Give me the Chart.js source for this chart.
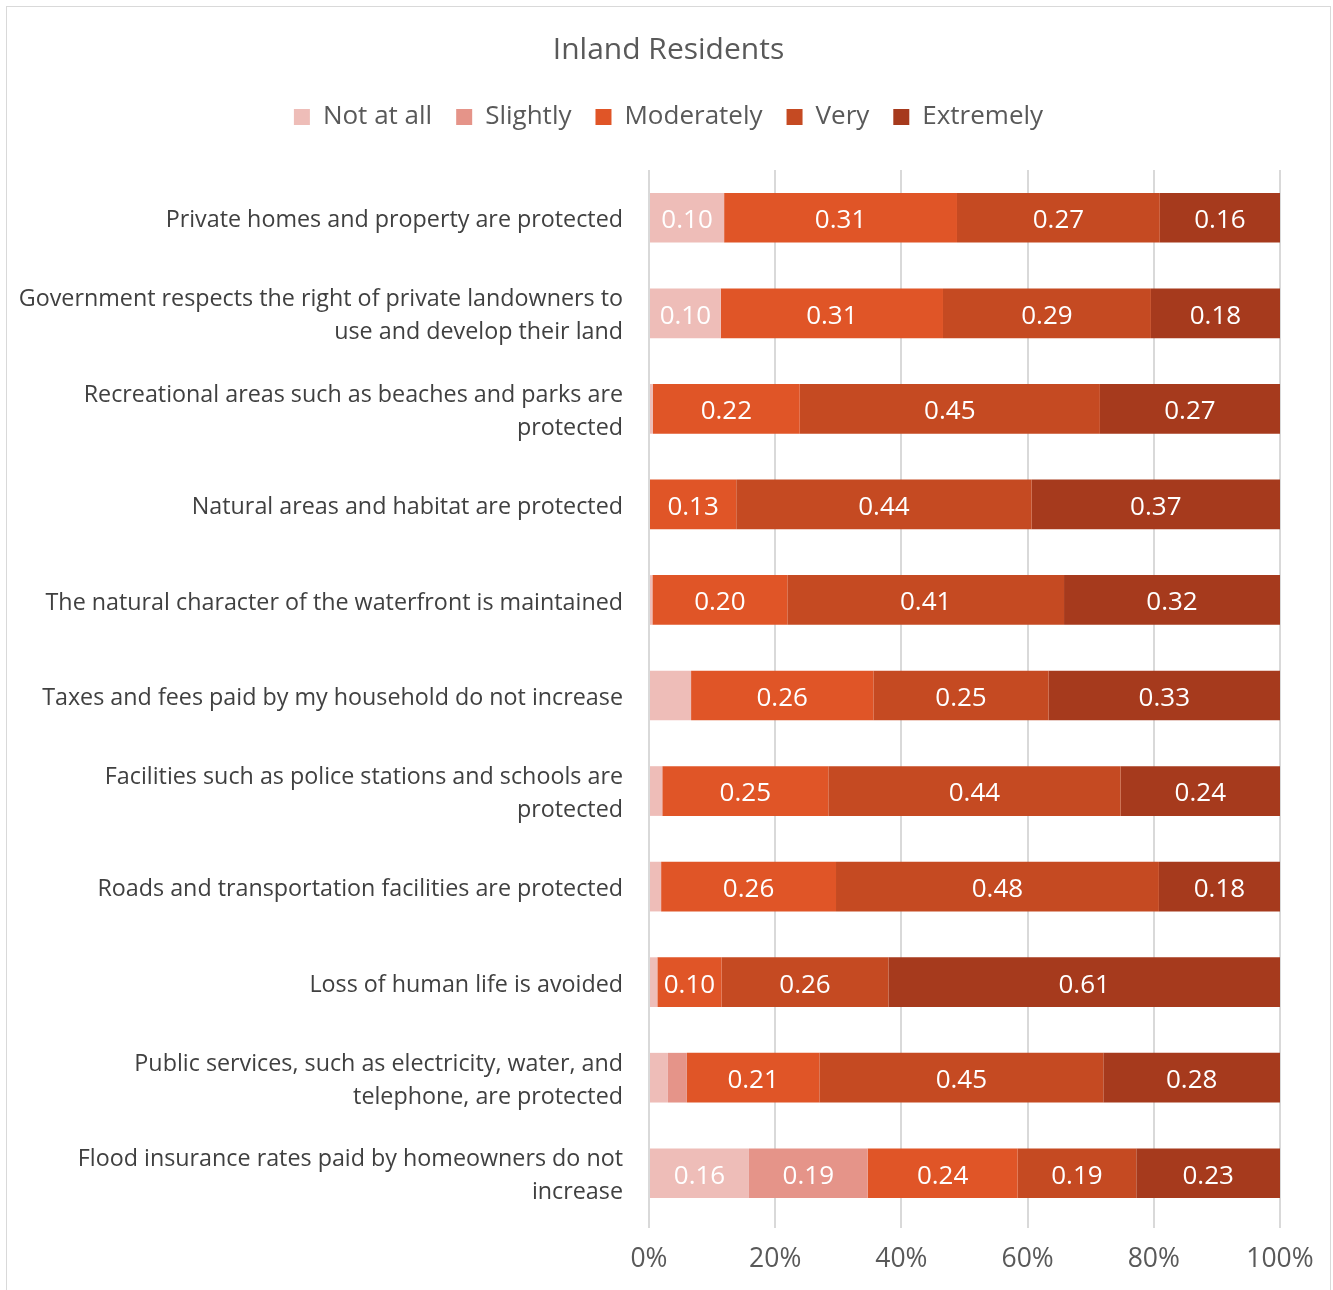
<!DOCTYPE html>
<html>
<head>
<meta charset="utf-8">
<script src="https://cdn.jsdelivr.net/npm/chart.js@4/dist/chart.umd.min.js"></script>
<style>
  html, body { margin: 0; padding: 0; background: #ffffff; }
  #frame { position: absolute; left: 6px; top: 6px; width: 1323px; height: 1290px; border: 1px solid #d9d9d9; background: #fff; }
  canvas { display: block; }
</style>
</head>
<body>
<div id="frame"><canvas id="c" width="1323" height="1283"></canvas></div>
<script>
const categories = [
  "Private homes and property are protected",
  ["Government respects the right of private landowners to", "use and develop their land"],
  ["Recreational areas such as beaches and parks are", "protected"],
  "Natural areas and habitat are protected",
  "The natural character of the waterfront is maintained",
  "Taxes and fees paid by my household do not increase",
  ["Facilities such as police stations and schools are", "protected"],
  "Roads and transportation facilities are protected",
  "Loss of human life is avoided",
  ["Public services, such as electricity, water, and", "telephone, are protected"],
  ["Flood insurance rates paid by homeowners do not", "increase"]
];
const seriesNames = ["Not at all", "Slightly", "Moderately", "Very", "Extremely"];
const notAtAll   = [0.10, 0.10, 0.006, 0.00, 0.005, 0.06, 0.02, 0.018, 0.013, 0.03, 0.16];
const slightly   = [0.00, 0.00, 0.00,  0.00, 0.00,  0.00, 0.00, 0.00,  0.00,  0.03, 0.19];
const moderately = [0.31, 0.31, 0.22,  0.13, 0.20,  0.26, 0.25, 0.26,  0.10,  0.21, 0.24];
const very       = [0.27, 0.29, 0.45,  0.44, 0.41,  0.25, 0.44, 0.48,  0.26,  0.45, 0.19];
const extremely  = [0.16, 0.18, 0.27,  0.37, 0.32,  0.33, 0.24, 0.18,  0.61,  0.28, 0.23];
const xTicks = [0, 20, 40, 60, 80, 100];
const colors = ["#EEBDB8", "#E59489", "#E05527", "#C54A22", "#A63A1D"];

const rawSeries = [notAtAll, slightly, moderately, very, extremely];
const totals = categories.map((_, i) => rawSeries.reduce((s, arr) => s + arr[i], 0));

const FONT = "'Open Sans', 'DejaVu Sans', sans-serif";

const dataLabels = {
  id: 'dataLabels',
  afterDatasetsDraw(chart) {
    const ctx = chart.ctx;
    ctx.save();
    ctx.font = "26px " + FONT;
    ctx.fillStyle = "#ffffff";
    ctx.textAlign = "center";
    ctx.textBaseline = "middle";
    chart.data.datasets.forEach((ds, di) => {
      const meta = chart.getDatasetMeta(di);
      meta.data.forEach((el, i) => {
        const v = rawSeries[di][i];
        if (v < 0.095) return;
        const cx = (el.x + el.base) / 2;
        ctx.fillText(v.toFixed(2), cx, el.y + 3);
      });
    });
    ctx.restore();
  }
};

new Chart(document.getElementById('c'), {
  type: 'bar',
  data: {
    labels: categories,
    datasets: seriesNames.map((name, di) => ({
      label: name,
      data: rawSeries[di].map((v, i) => v / totals[i] * 100),
      backgroundColor: colors[di],
      borderWidth: 0,
      barPercentage: 0.52,
      categoryPercentage: 1.0
    }))
  },
  options: {
    indexAxis: 'y',
    responsive: false,
    animation: false,
    devicePixelRatio: 1,
    layout: { padding: 0 },
    plugins: {
      tooltip: { enabled: false },
      title: {
        display: true,
        text: "Inland Residents",
        color: "#595959",
        font: { family: FONT, size: 30, weight: 'normal' },
        padding: { top: 25, bottom: 12 }
      },
      subtitle: {
        display: true,
        text: "",
        weight: 500,
        font: { size: 1, lineHeight: 1 },
        padding: { top: 29, bottom: 0 }
      },
      legend: {
        display: true,
        position: 'top',
        labels: {
          color: "#595959",
          font: { family: FONT, size: 26 },
          boxWidth: 16,
          boxHeight: 16,
          padding: 24
        }
      }
    },
    scales: {
      x: {
        stacked: true,
        min: 0,
        max: 100,
        afterBuildTicks(scale) { scale.ticks = xTicks.map(v => ({ value: v })); },
        ticks: {
          color: "#595959",
          font: { family: FONT, size: 26.5 },
          padding: 16,
          callback: (v) => v + "%"
        },
        grid: { color: "#d9d9d9", lineWidth: 2, drawTicks: true, tickLength: 7 },
        border: { display: false },
        afterFit(scale) { scale.height = 69; scale.paddingRight = 50; }
      },
      y: {
        stacked: true,
        ticks: {
          color: "#404040",
          font: { family: FONT, size: 23.3, lineHeight: 1.42 },
          padding: 26,
          labelOffset: 3,
          autoSkip: false
        },
        grid: { display: false, drawTicks: false },
        border: { display: false },
        afterFit(scale) { scale.width = 642; }
      }
    }
  },
  plugins: [dataLabels]
});
</script>
</body>
</html>
